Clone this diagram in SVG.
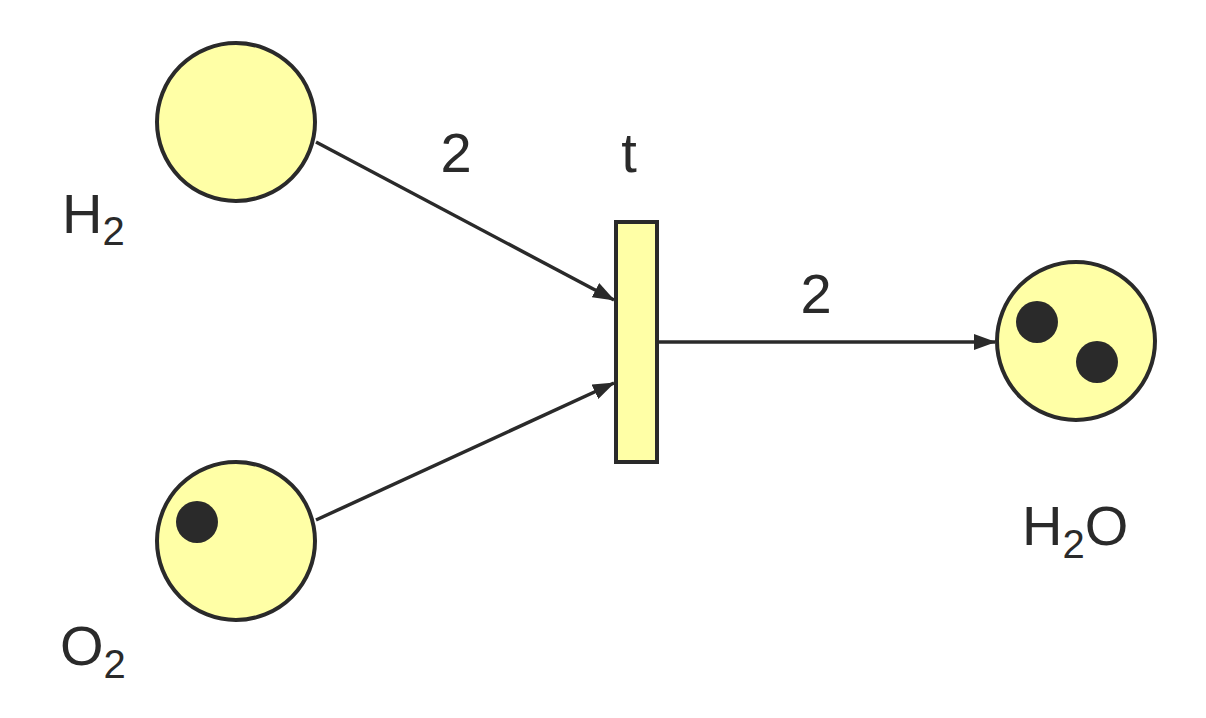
<svg xmlns="http://www.w3.org/2000/svg" width="1206" height="718" viewBox="0 0 1206 718">
<style>
.place{fill:#ffffa6;stroke:#2a2a2a;stroke-width:4}
.tok{fill:#2a2a2a}
.arc{stroke:#2a2a2a;stroke-width:3.5;fill:none}
text{font-family:"Liberation Sans",Arial,sans-serif;fill:#2a2a2a}
.lbl{font-size:56px}
.sub{font-size:40px}
</style>
<defs>
<marker id="ah" markerWidth="22" markerHeight="16" refX="21" refY="8" orient="auto" markerUnits="userSpaceOnUse">
<path d="M0,0 L22,8 L0,16 Z" fill="#2a2a2a"/>
</marker>
</defs>
<rect width="1206" height="718" fill="#ffffff"/>
<g id="connectors">
<line class="arc" x1="316" y1="142" x2="614" y2="300" marker-end="url(#ah)"/>
<line class="arc" x1="316" y1="520" x2="614" y2="383" marker-end="url(#ah)"/>
<line class="arc" x1="659" y1="342" x2="995" y2="342" marker-end="url(#ah)"/>
<text class="lbl" x="456" y="172" text-anchor="middle">2</text>
<text class="lbl" x="816" y="313" text-anchor="middle">2</text>
</g>
<g id="H2">
<circle class="place" cx="236" cy="122" r="79"/>
<text x="62" y="233"><tspan class="lbl">H</tspan><tspan class="sub" dy="12">2</tspan></text>
</g>
<g id="O2">
<circle class="place" cx="236" cy="541" r="79"/>
<circle class="tok" cx="197" cy="522" r="21"/>
<text x="60" y="665"><tspan class="lbl">O</tspan><tspan class="sub" dy="13">2</tspan></text>
</g>
<g id="t">
<rect class="place" x="616" y="222" width="41" height="240"/>
<text class="lbl" x="629" y="172" text-anchor="middle">t</text>
</g>
<g id="H2O">
<circle class="place" cx="1076" cy="341" r="79"/>
<circle class="tok" cx="1037" cy="322" r="21"/>
<circle class="tok" cx="1097" cy="362" r="21"/>
<text x="1022" y="545"><tspan class="lbl">H</tspan><tspan class="sub" dy="13">2</tspan><tspan class="lbl" dy="-13">O</tspan></text>
</g>
</svg>
